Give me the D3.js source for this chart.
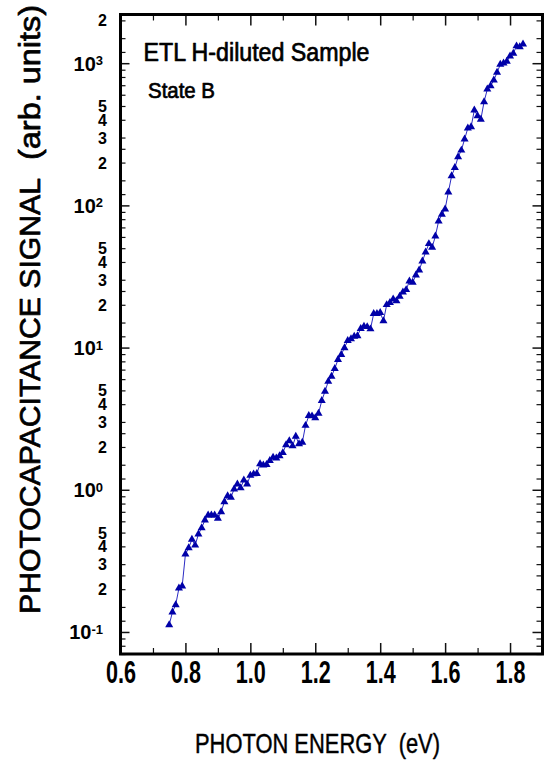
<!DOCTYPE html>
<html>
<head>
<meta charset="utf-8">
<script src="https://cdn.jsdelivr.net/npm/d3@7"></script>
<style>
  html, body { margin: 0; padding: 0; background: #fff; }
  svg { display: block; }
  text { font-family: "Liberation Sans", Arial, Helvetica, sans-serif; fill: #000; }
</style>
</head>
<body>
<svg id="chart" width="544" height="763"></svg>
<script>
// Photon energy (eV) of each measured point
const energies = [
  0.75, 0.76, 0.77, 0.78, 0.79, 0.80, 0.81, 0.82, 0.83, 0.84,
  0.85, 0.86, 0.87, 0.88, 0.89, 0.90, 0.91, 0.92, 0.93, 0.94,
  0.95, 0.96, 0.97, 0.98, 0.99, 1.00, 1.01, 1.02, 1.03, 1.04,
  1.05, 1.06, 1.07, 1.08, 1.09, 1.10, 1.11, 1.12, 1.13, 1.14,
  1.15, 1.16, 1.17, 1.18, 1.19, 1.20, 1.21, 1.22, 1.23, 1.24,
  1.25, 1.26, 1.27, 1.28, 1.29, 1.30, 1.31, 1.32, 1.33, 1.34,
  1.35, 1.36, 1.37, 1.38, 1.39, 1.40, 1.41, 1.42, 1.43, 1.44,
  1.45, 1.46, 1.47, 1.48, 1.49, 1.50, 1.51, 1.52, 1.53, 1.54,
  1.55, 1.56, 1.57, 1.58, 1.59, 1.60, 1.61, 1.62, 1.63, 1.64,
  1.65, 1.66, 1.67, 1.68, 1.69, 1.70, 1.71, 1.72, 1.73, 1.74,
  1.75, 1.76, 1.77, 1.78, 1.79, 1.80, 1.81, 1.82, 1.83, 1.84
];

// Photocapacitance signal (arb. units) at each energy
const signal = [
  0.112, 0.138, 0.155, 0.203, 0.210, 0.352, 0.390, 0.447, 0.407, 0.487,
  0.540, 0.611, 0.663, 0.663, 0.663, 0.628, 0.700, 0.822, 0.907, 0.883,
  1.01, 1.097, 1.03, 1.17, 1.097, 1.26, 1.29, 1.30, 1.52, 1.49,
  1.50, 1.60, 1.69, 1.67, 1.73, 1.82, 2.07, 2.21, 2.03, 2.37,
  2.10, 2.15, 2.83, 3.32, 3.30, 3.20, 3.44, 4.23, 4.92, 5.77,
  6.28, 7.11, 8.22, 8.93, 9.96, 11.2, 11.5, 12.0, 12.1, 13.6,
  14.1, 14.0, 13.5, 17.3, 17.3, 17.6, 15.4, 20.0, 20.7, 21.9,
  21.3, 22.9, 24.5, 25.5, 29.3, 28.7, 32.3, 35.0, 40.5, 46.9,
  53.7, 50.6, 60.8, 77.5, 86.4, 94.2, 124, 161, 184, 219,
  244, 292, 349, 356, 467, 426, 402, 535, 656, 692,
  759, 860, 979, 1000, 1030, 1120, 1170, 1320, 1300, 1360
];

// Axis ticks and labels
const xMajorTicks = [0.6, 0.8, 1.0, 1.2, 1.4, 1.6, 1.8];
const xMinorTicks = [0.7, 0.9, 1.1, 1.3, 1.5, 1.7, 1.9];
const xTickLabels = ["0.6", "0.8", "1.0", "1.2", "1.4", "1.6", "1.8"];
const yDecades = [0.01, 0.1, 1, 10, 100, 1000];
const yDecadeLabels = [null, "-1", "0", "1", "2", "3"];
const yMinorSteps = [1.2, 1.5, 2, 2.5, 3, 4, 5, 6, 7, 8, 9];
const yLabeledSteps = [2, 3, 4, 5];

const titleText = "ETL H-diluted Sample";
const stateText = "State B";
const xTitle = "PHOTON ENERGY  (eV)";
const yTitle = "PHOTOCAPACITANCE SIGNAL";
const yUnit = "(arb. units)";

const svg = d3.select("#chart");
const L = 120.5, R = 542.5, T = 14.5, B = 654;

const x = d3.scaleLinear().domain([0.6, 1.9]).range([L, R]);
const y = d3.scaleLog().domain([0.07, 2200]).range([B, T]);

const inDomain = v => v >= 0.0699 && v <= 2200.01;
const yMajorValues = yDecades.filter(inDomain);
const yMinorValues = [];
const yMinorLabelValues = [];
yDecades.forEach(d => yMinorSteps.forEach(s => {
  const v = +(d * s).toPrecision(6);
  if (inDomain(v)) {
    yMinorValues.push(v);
    if (yLabeledSteps.includes(s)) yMinorLabelValues.push(v);
  }
}));

// inward-pointing ticks on all four sides of the frame
function tickRow(axisFn, scale, values, len, transform, width) {
  svg.append("g")
    .attr("transform", transform)
    .call(axisFn(scale).tickValues(values).tickSize(-len).tickFormat(""))
    .call(g => g.select(".domain").remove())
    .call(g => g.selectAll(".tick line").attr("stroke", "#111").attr("stroke-width", width));
}
tickRow(d3.axisBottom, x, xMajorTicks, 11, `translate(0,${B})`, 1.5);
tickRow(d3.axisBottom, x, xMinorTicks, 6, `translate(0,${B})`, 1.2);
tickRow(d3.axisTop, x, xMajorTicks, 11, `translate(0,${T})`, 1.5);
tickRow(d3.axisTop, x, xMinorTicks, 6, `translate(0,${T})`, 1.2);
tickRow(d3.axisLeft, y, yMajorValues, 9, `translate(${L},0)`, 1.5);
tickRow(d3.axisLeft, y, yMinorValues, 5, `translate(${L},0)`, 1.2);
tickRow(d3.axisRight, y, yMajorValues, 10, `translate(${R},0)`, 1.5);
tickRow(d3.axisRight, y, yMinorValues, 6, `translate(${R},0)`, 1.2);

// x tick labels
svg.append("g")
  .attr("transform", `translate(0,${B})`)
  .call(d3.axisBottom(x).tickValues(xMajorTicks).tickSize(0)
    .tickFormat((d, i) => xTickLabels[i]))
  .call(g => g.select(".domain").remove())
  .call(g => g.selectAll("text")
    .attr("y", 29).attr("dy", null)
    .attr("font-size", 31).attr("font-weight", "bold")
    .attr("font-family", "'Liberation Sans', Arial, sans-serif")
    .attr("textLength", 30).attr("lengthAdjust", "spacingAndGlyphs"));

// y decade labels written as powers of ten
svg.append("g")
  .attr("transform", `translate(${L},0)`)
  .call(d3.axisLeft(y).tickValues(yMajorValues).tickSize(0).tickFormat(""))
  .call(g => g.select(".domain").remove())
  .call(g => g.selectAll(".tick").each(function (d) {
    const exp = yDecadeLabels[yDecades.indexOf(d)];
    const t = d3.select(this).select("text")
      .attr("x", -17.5).attr("dy", null).attr("y", 7)
      .attr("text-anchor", "end")
      .attr("font-size", 20).attr("font-weight", "bold")
      .attr("font-family", "'Liberation Sans', Arial, sans-serif");
    t.append("tspan").text("10");
    t.append("tspan").attr("dy", -5.5).attr("font-size", 13).text(exp);
  }));

// y intermediate labels 2..5
svg.append("g")
  .attr("transform", `translate(${L},0)`)
  .call(d3.axisLeft(y).tickValues(yMinorLabelValues).tickSize(0)
    .tickFormat(d => String(Math.round(d / Math.pow(10, Math.floor(Math.log10(d) + 1e-9))))))
  .call(g => g.select(".domain").remove())
  .call(g => g.selectAll("text")
    .attr("x", -13.5).attr("dy", null).attr("y", 5.5)
    .attr("text-anchor", "end")
    .attr("font-size", 16).attr("font-weight", "bold")
    .attr("font-family", "'Liberation Sans', Arial, sans-serif"));

// data curve and triangle markers
const points = energies.map((e, i) => ({ e, v: signal[i] }));
svg.append("path")
  .datum(points)
  .attr("fill", "none")
  .attr("stroke", "#2b2bc4")
  .attr("stroke-width", 1)
  .attr("d", d3.line().x(d => x(d.e)).y(d => y(d.v)));

svg.append("g")
  .selectAll("path")
  .data(points)
  .join("path")
  .attr("transform", d => `translate(${x(d.e)},${y(d.v)})`)
  .attr("d", d3.symbol(d3.symbolTriangle).size(28))
  .attr("fill", "#0000a8");

// plot frame
svg.append("rect")
  .attr("x", L).attr("y", T)
  .attr("width", R - L).attr("height", B - T)
  .attr("fill", "none").attr("stroke", "#000").attr("stroke-width", 3);

// medium-weight text: regular glyphs with a thin outline of the same colour
function medium(sel, w) {
  return sel.attr("stroke", "#000").attr("stroke-width", w).attr("stroke-linejoin", "round");
}

// annotation inside the frame
medium(svg.append("text")
  .attr("x", 143.5).attr("y", 60.5)
  .attr("font-size", 25)
  .attr("textLength", 226).attr("lengthAdjust", "spacingAndGlyphs")
  .text(titleText), 0.7);
medium(svg.append("text")
  .attr("x", 148).attr("y", 97.5)
  .attr("font-size", 22)
  .attr("textLength", 67).attr("lengthAdjust", "spacingAndGlyphs")
  .text(stateText), 0.7);

// axis titles
medium(svg.append("text")
  .attr("x", 195).attr("y", 753)
  .attr("font-size", 27.5)
  .style("white-space", "pre")
  .attr("textLength", 245).attr("lengthAdjust", "spacingAndGlyphs")
  .text(xTitle), 0.45);

const yt = svg.append("g").attr("transform", "translate(40,0) rotate(-90)");
medium(yt.append("text")
  .attr("x", -614).attr("y", 0)
  .attr("font-size", 29.5)
  .attr("textLength", 436).attr("lengthAdjust", "spacingAndGlyphs")
  .text(yTitle), 0.7);
medium(yt.append("text")
  .attr("x", -160).attr("y", 0)
  .attr("font-size", 29.5)
  .attr("textLength", 155).attr("lengthAdjust", "spacingAndGlyphs")
  .text(yUnit), 0.7);
</script>
</body>
</html>
